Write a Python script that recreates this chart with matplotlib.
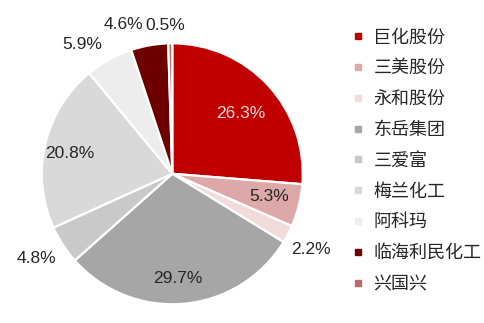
import matplotlib.pyplot as plt
import numpy as np
from matplotlib.lines import Line2D

plt.rcParams['font.family'] = ['Liberation Sans', 'Noto Sans CJK SC', 'DejaVu Sans']

# Market share by company (%)
companies = ['巨化股份', '三美股份', '永和股份', '东岳集团', '三爱富',
             '梅兰化工', '阿科玛', '临海利民化工', '兴国兴']
shares = [26.3, 5.3, 2.2, 29.7, 4.8, 20.8, 5.9, 4.6, 0.5]

colors = ['#C00000', '#DDA8A8', '#F2DCDB', '#A6A6A6', '#C9C9C9',
          '#D9D9D9', '#EDEDED', '#6E0000', '#B86B6B']

# label placement: radius as fraction of pie radius, angle nudge in degrees
label_r = [0.70, 0.76, 1.21, 0.80, 1.23, 0.80, 1.21, 1.20, 1.14]
label_nudge = [-1, 1, -1, -2, -1, 2, 6, 8, 2]
label_colors = ['#F2DCDB'] + ['#262626'] * 8

fig = plt.figure(figsize=(4.84, 3.23), dpi=100)
ax = fig.add_axes([0.081, 0.05, 0.55, 0.824])

wedges, _ = ax.pie(shares, colors=colors, startangle=90, counterclock=False,
                   wedgeprops=dict(edgecolor='white', linewidth=1.6))

for w, val, r, dn, c in zip(wedges, shares, label_r, label_nudge, label_colors):
    ang = np.deg2rad((w.theta1 + w.theta2) / 2 + dn)
    ax.text(r * np.cos(ang), r * np.sin(ang), f'{val:.1f}%',
            ha='center', va='center', fontsize=12.5, color=c)

ax.set_xlim(-1.02, 1.02)
ax.set_ylim(-1.02, 1.02)
ax.set_aspect('equal')

handles = [Line2D([], [], marker='s', linestyle='none', markersize=5,
                  markerfacecolor=c, markeredgecolor=c) for c in colors]
fig.legend(handles, companies, loc='upper left', bbox_to_anchor=(0.71, 0.94),
           frameon=False, handlelength=0.6, handletextpad=0.55,
           labelspacing=0.71, borderpad=0,
           prop={'family': ['Noto Sans CJK SC'], 'size': 13},
           labelcolor='#262626')

fig.savefig('out.png', dpi=100)
